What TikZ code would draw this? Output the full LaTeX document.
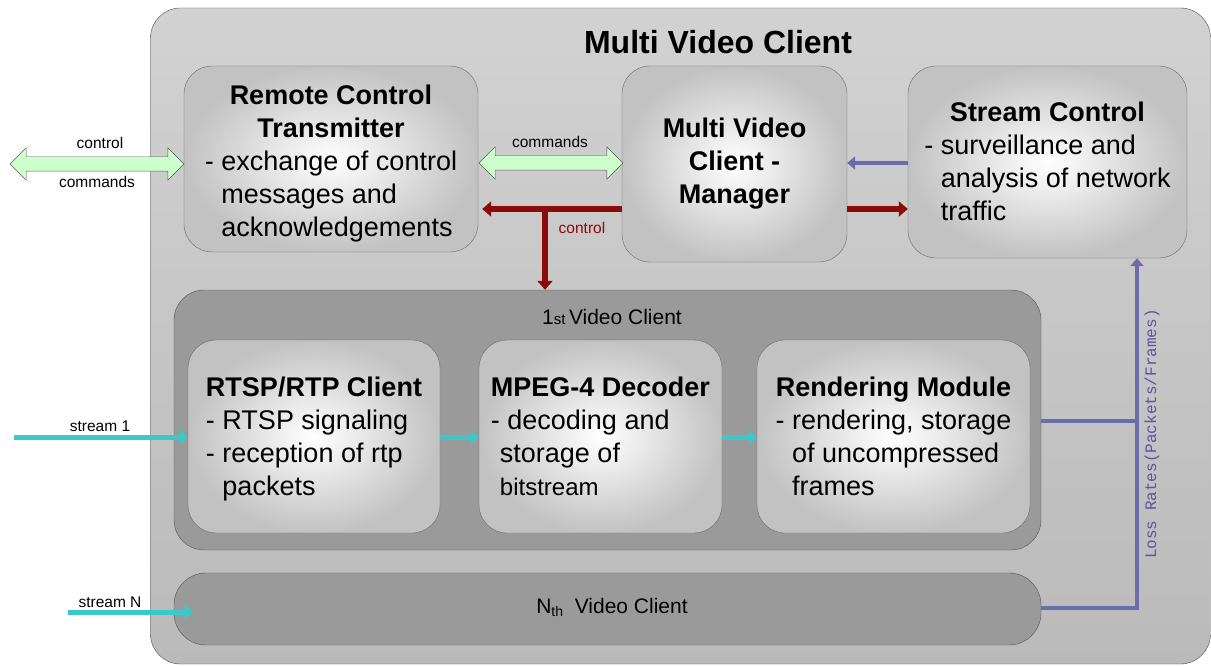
\documentclass[tikz,border=0pt]{standalone}
\usepackage{fontspec}
\setmainfont{Liberation Sans}
\setmonofont{Liberation Mono}
\usetikzlibrary{arrows.meta,shapes.arrows}
\definecolor{outerTop}{HTML}{D2D2D2}
\definecolor{outerBot}{HTML}{BABABA}
\definecolor{grp}{HTML}{9A9A9A}
\definecolor{boxedge}{HTML}{6A6A6A}
\definecolor{boxout}{HTML}{C2C2C2}
\definecolor{greenfill}{HTML}{CCFFCC}
\definecolor{darkred}{HTML}{8B0A0A}
\definecolor{lilac}{HTML}{6C6CAA}
\definecolor{lilactext}{HTML}{6050A8}
\definecolor{cyanA}{HTML}{3CC8C8}
\tikzset{
  modbox/.style={draw=boxedge, rounded corners=28pt, inner color=white, outer color=boxout,
    inner sep=0pt},
  modtext/.style={inner sep=0pt, font=\fontsize{27}{33}\selectfont},
  grpbox/.style={draw=boxedge!80!black, rounded corners=30pt, fill=grp, inner sep=0pt},
  greenarrow/.style={shape=double arrow, draw=gray!70!black, fill=greenfill, inner xsep=0pt,
    inner ysep=7pt, double arrow head extend=9pt, double arrow tip angle=90},
  redarrow/.style={draw=darkred, line width=5.5pt, -{Triangle[length=9pt,width=15pt]}},
  lilacline/.style={draw=lilac, line width=4.5pt},
  lilacarrow/.style={draw=lilac, line width=4.5pt, -{Triangle[length=8pt,width=13pt]}},
  cyanarrow/.style={draw=cyanA, line width=5pt, -{Triangle[length=8pt,width=15pt]}},
  smalllabel/.style={font=\fontsize{15.5}{18}\selectfont, inner sep=0pt}
}
\begin{document}
\begin{tikzpicture}[x=1pt,y=-1pt]
\useasboundingbox (0,0) rectangle (1211,666);
% outer container
\node[draw=gray!60!black, rounded corners=30pt, top color=outerTop, bottom color=outerBot,
  minimum width=1060pt, minimum height=656pt, inner sep=0pt] (outer) at (680.5,336) {};
\node[font=\bfseries\fontsize{32}{38}\selectfont] (title) at (718,42) {Multi Video Client};
% top modules
\node[modbox, minimum width=294pt, minimum height=186pt] (rct) at (331,159) {};
\node[modtext] (rcttext) at ([yshift=-5pt]rct.center)
  {\begin{tabular}{@{}l@{}}\multicolumn{1}{@{}c@{}}{\bfseries Remote Control}\\
   \multicolumn{1}{@{}c@{}}{\bfseries Transmitter}\\
   - exchange of control\\ \hphantom{- }messages and\\ \hphantom{- }acknowledgements\end{tabular}};
\node[modbox, minimum width=225pt, minimum height=196pt] (mgr) at (734.5,164) {};
\node[modtext] (mgrtext) at (mgr.center)
  {\begin{tabular}{@{}c@{}}\bfseries Multi Video\\ \bfseries Client -\\ \bfseries Manager\end{tabular}};
\node[modbox, minimum width=279pt, minimum height=192pt] (sc) at (1047.5,162) {};
\node[modtext] (sctext) at ([yshift=-2pt]sc.center)
  {\begin{tabular}{@{}l@{}}\multicolumn{1}{@{}c@{}}{\bfseries Stream Control}\\
   - surveillance and\\ \hphantom{- }analysis of network\\ \hphantom{- }traffic\end{tabular}};
% video client groups
\node[grpbox, minimum width=867pt, minimum height=260pt] (grp1) at (607.5,420) {};
\node[font=\fontsize{21}{24}\selectfont] (grp1l) at (612,317)
  {1{\fontsize{15}{15}\selectfont st}\,Video Client};
\node[grpbox, minimum width=867pt, minimum height=72pt, rounded corners=32pt] (grpN) at (607.5,609) {};
\node[font=\fontsize{21}{24}\selectfont] (grpNl) at (612,607)
  {N\raisebox{-3pt}{\fontsize{14}{14}\selectfont th}\ \ Video Client};
% inner modules
\node[modbox, minimum width=252pt, minimum height=193pt] (rtsp) at (314,436.5) {};
\node[modtext] (rtsptext) at ([yshift=-3pt]rtsp.center)
  {\begin{tabular}{@{}l@{}}\multicolumn{1}{@{}c@{}}{\bfseries RTSP/RTP Client}\\
   - RTSP signaling\\ - reception of rtp\\ \hphantom{- }packets\end{tabular}};
\node[modbox, minimum width=243pt, minimum height=193pt] (mpeg) at (600.5,436.5) {};
\node[modtext] (mpegtext) at ([yshift=-3pt]mpeg.center)
  {\begin{tabular}{@{}l@{}}\multicolumn{1}{@{}c@{}}{\bfseries MPEG-4 Decoder}\\
   - decoding and\\ \hphantom{-}storage of\\ \hphantom{-}{\fontsize{24}{33}\selectfont bitstream}\end{tabular}};
\node[modbox, minimum width=273pt, minimum height=193pt] (rend) at (893.5,436.5) {};
\node[modtext] (rendtext) at ([yshift=-3pt]rend.center)
  {\begin{tabular}{@{}l@{}}\multicolumn{1}{@{}c@{}}{\bfseries Rendering Module}\\
   - rendering, storage\\ \hphantom{- }of uncompressed\\ \hphantom{- }frames\end{tabular}};
% green command arrows
\node[greenarrow, minimum height=174pt] (gleft) at (97,164) {};
\node[smalllabel] (gleftt) at (100,143) {control};
\node[smalllabel] (gleftb) at (97,182) {commands};
\node[greenarrow, minimum height=144pt] (gmid) at (551,163) {};
\node[smalllabel] (gmidt) at (550,142) {commands};
% red control arrows
\coordinate (rj) at (545,206);
\draw[redarrow] (mgr.west |- 0,209) -- ([xshift=4pt]rct.east |- 0,209);
\draw[redarrow] (rj) -- (rj |- grp1.north);
\node[smalllabel, text=darkred] (ctl) at (582,228) {control};
\draw[redarrow] (mgr.east |- 0,209) -- (sc.west |- 0,209);
% lilac arrows
\draw[lilacarrow] (sc.west |- 0,163) -- (mgr.east |- 0,163);
\coordinate (lr) at (1137,608);
\draw[lilacline] (grp1.east |- 0,421) -- (lr |- 0,421);
\draw[lilacarrow] (grpN.east |- lr) -- (lr) -- (lr |- sc.south);
\node[rotate=90, font=\ttfamily\fontsize{16}{18}\selectfont, text=lilactext, inner sep=0pt] (loss) at (1152,434)
  {Loss Rates(Packets/Frames)};
% cyan stream arrows
\coordinate (s1) at (14,437);
\draw[cyanarrow] (s1) -- (rtsp.west |- s1);
\node[smalllabel] (s1l) at (100,426) {stream 1};
\draw[cyanarrow] (rtsp.east |- s1) -- (mpeg.west |- s1);
\draw[cyanarrow] (mpeg.east |- s1) -- (rend.west |- s1);
\coordinate (sN) at (68,612);
\draw[cyanarrow] (sN) -- ([xshift=19pt]grpN.west |- sN);
\node[smalllabel] (sNl) at (110,602) {stream N};
\end{tikzpicture}
\end{document}
